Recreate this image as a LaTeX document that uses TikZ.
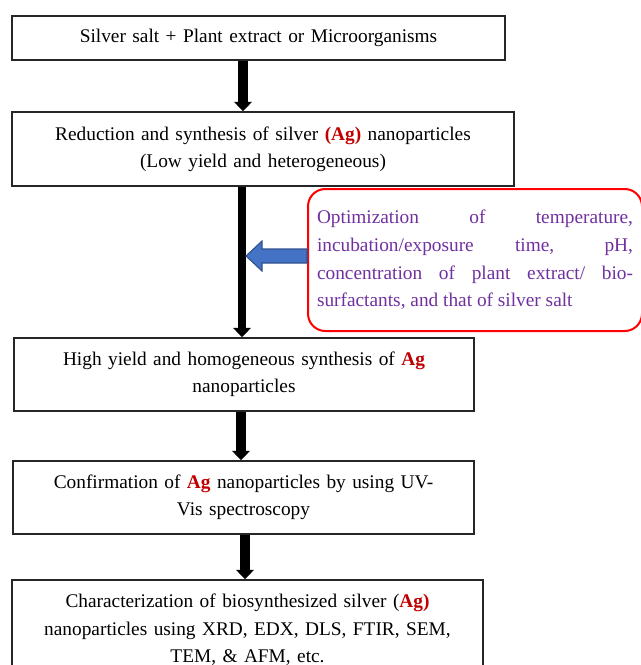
\documentclass[tikz,border=0pt]{standalone}
\usepackage{fontspec}
\setmainfont{Liberation Serif}
\usetikzlibrary{arrows.meta}
\definecolor{agred}{HTML}{C00000}
\definecolor{optpurple}{HTML}{7030A0}
\definecolor{optblue}{HTML}{4472C4}
\definecolor{optblueborder}{HTML}{2F528F}
\newcommand{\ag}[1]{\textcolor{agred}{\textbf{#1}}}

\begin{document}
\begin{tikzpicture}[x=0.75pt,y=-0.75pt,
	box/.style={draw=black!85, line width=1.1pt, align=center, inner sep=0pt,
		font=\fontsize{14.5}{20.5}\selectfont},
	optbox/.style={draw=red, line width=1.5pt, rounded corners=13pt, align=justify,
		inner xsep=6.75pt, inner ysep=0pt, text=optpurple,
		font=\fontsize{14.5}{20.8}\selectfont},
	flow/.style={line width=7pt, -{Triangle[width=13pt,length=7pt]}},
	bluearrow/.style={fill=optblue, draw=optblueborder, line width=0.8pt}]
	\useasboundingbox (0,0) rectangle (641,665);
	
	\node[box, text width=369.75pt, minimum height=33pt] (salt) at (258.5,38)
	{Silver salt + Plant extract or Microorganisms};
	\node[box, text width=376.5pt, minimum height=55.5pt] (redu) at (263,149)
	{Reduction and synthesis of silver \ag{(Ag)} nanoparticles\\(Low yield and heterogeneous)};
	\node[optbox, text width=237pt, minimum height=106.5pt] (opt) at (475,260)
	{Optimization of temperature,\linebreak incubation/exposure time, pH,\linebreak
		concentration of plant extract/ bio-\linebreak surfactants, and that of silver salt};
	\node[box, text width=345pt, minimum height=54.75pt] (high) at (244,374.5)
	{High yield and homogeneous synthesis of \ag{Ag}\\nanoparticles};
	\node[box, text width=345.75pt, minimum height=54.75pt] (conf) at (243.5,497.5)
	{Confirmation of \ag{Ag} nanoparticles by using UV-\\Vis spectroscopy};
	\node[box, text width=353.25pt, minimum height=75pt] (char) at (247.5,630)
	{Characterization of biosynthesized silver (\ag{Ag)}\\
		nanoparticles using XRD, EDX, DLS, FTIR, SEM,\\TEM, \& AFM, etc.};
	
	\coordinate (a1) at (243,0);
	\coordinate (a2) at (242,0);
	\coordinate (a3) at (241,0);
	\coordinate (a4) at (245,0);
	
	\draw[flow] (salt.south -| a1) -- (redu.north -| a1);
	\draw[flow, line width=6pt] (redu.south -| a2) -- (high.north -| a2);
	\draw[flow] (high.south -| a3) -- (conf.north -| a3);
	\draw[flow] (conf.south -| a4) -- (char.north -| a4);
	
	% block arrow from the optimization box
	\draw[bluearrow] ([yshift=8.25pt]opt.west) -- ++(-45,0) -- ++(0,-8) -- ++(-16,15)
	-- ++(16,15) -- ++(0,-8) -- ++(45,0) -- cycle;
\end{tikzpicture}
\end{document}
